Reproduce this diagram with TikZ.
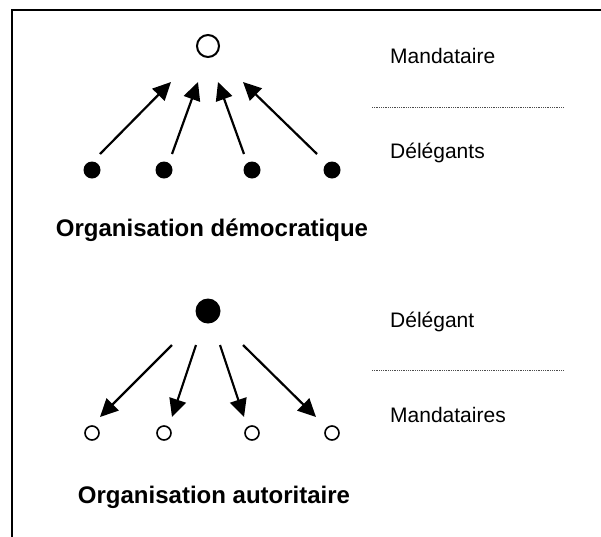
\documentclass[tikz,border=0pt]{standalone}
\usepackage{fontspec}
\setmainfont{Liberation Sans}
\usetikzlibrary{arrows.meta}
\begin{document}
\begin{tikzpicture}[x=1pt,y=-1pt,
  lbl/.style={anchor=base west,inner sep=0pt,font=\fontsize{21}{25}\selectfont},
  ttl/.style={anchor=base,inner sep=0pt,font=\fontsize{24}{28}\selectfont\bfseries},
  opencirc/.style={circle,draw,line width=2pt,fill=white,inner sep=0pt},
  fillcirc/.style={circle,fill=black,inner sep=0pt},
  arr/.style={line width=2.2pt,-{Triangle[length=18pt,width=17pt]}},
  sep/.style={line width=0.7pt,dash pattern=on 0.7pt off 1.1pt,black!70}]
\useasboundingbox (0,0) rectangle (601,536);
% frame (cropped on right and bottom)
\draw[line width=2pt] (12,540) -- (12,10) -- (605,10);
% ---------- democratic
\node[opencirc,minimum size=22pt] (m) at (208,46) {};
\node[fillcirc,minimum size=17pt] (d1) at (92,170) {};
\node[fillcirc,minimum size=17pt] (d2) at (164,170) {};
\node[fillcirc,minimum size=17pt] (d3) at (252,170) {};
\node[fillcirc,minimum size=17pt] (d4) at (332,170) {};
\coordinate (a1s) at (100,154); \coordinate (a1e) at (171,82);
\coordinate (a2s) at (172,154); \coordinate (a2e) at (198,82);
\coordinate (a3s) at (244,154); \coordinate (a3e) at (218,82);
\coordinate (a4s) at (317,154); \coordinate (a4e) at (243,82);
\draw[arr] (a1s) -- (a1e);
\draw[arr] (a2s) -- (a2e);
\draw[arr] (a3s) -- (a3e);
\draw[arr] (a4s) -- (a4e);
\node[lbl] (lm) at (390,63) {Mandataire};
\node[lbl] (ld) at (390,158) {Délégants};
\coordinate (s1a) at (372,107); \coordinate (s1b) at (563,107);
\draw[sep] (s1a) -- (s1b);
\node[ttl] (t1) at (212,236.5) {Organisation démocratique};
% ---------- authoritarian
\node[fillcirc,minimum size=25pt] (D) at (208,311) {};
\node[opencirc,minimum size=14pt,line width=1.6pt] (o1) at (92,433) {};
\node[opencirc,minimum size=14pt,line width=1.6pt] (o2) at (164,433) {};
\node[opencirc,minimum size=14pt,line width=1.6pt] (o3) at (252,433) {};
\node[opencirc,minimum size=14pt,line width=1.6pt] (o4) at (332,433) {};
\coordinate (b1s) at (172,345); \coordinate (b1e) at (100,417);
\coordinate (b2s) at (196,345); \coordinate (b2e) at (172,417);
\coordinate (b3s) at (220,345); \coordinate (b3e) at (244,417);
\coordinate (b4s) at (243,345); \coordinate (b4e) at (316,417);
\draw[arr] (b1s) -- (b1e);
\draw[arr] (b2s) -- (b2e);
\draw[arr] (b3s) -- (b3e);
\draw[arr] (b4s) -- (b4e);
\node[lbl] (lD) at (390,327) {Délégant};
\node[lbl] (lM) at (390,422) {Mandataires};
\coordinate (s2a) at (372,370); \coordinate (s2b) at (563,370);
\draw[sep] (s2a) -- (s2b);
\node[ttl] (t2) at (214,503) {Organisation autoritaire};
\end{tikzpicture}
\end{document}
